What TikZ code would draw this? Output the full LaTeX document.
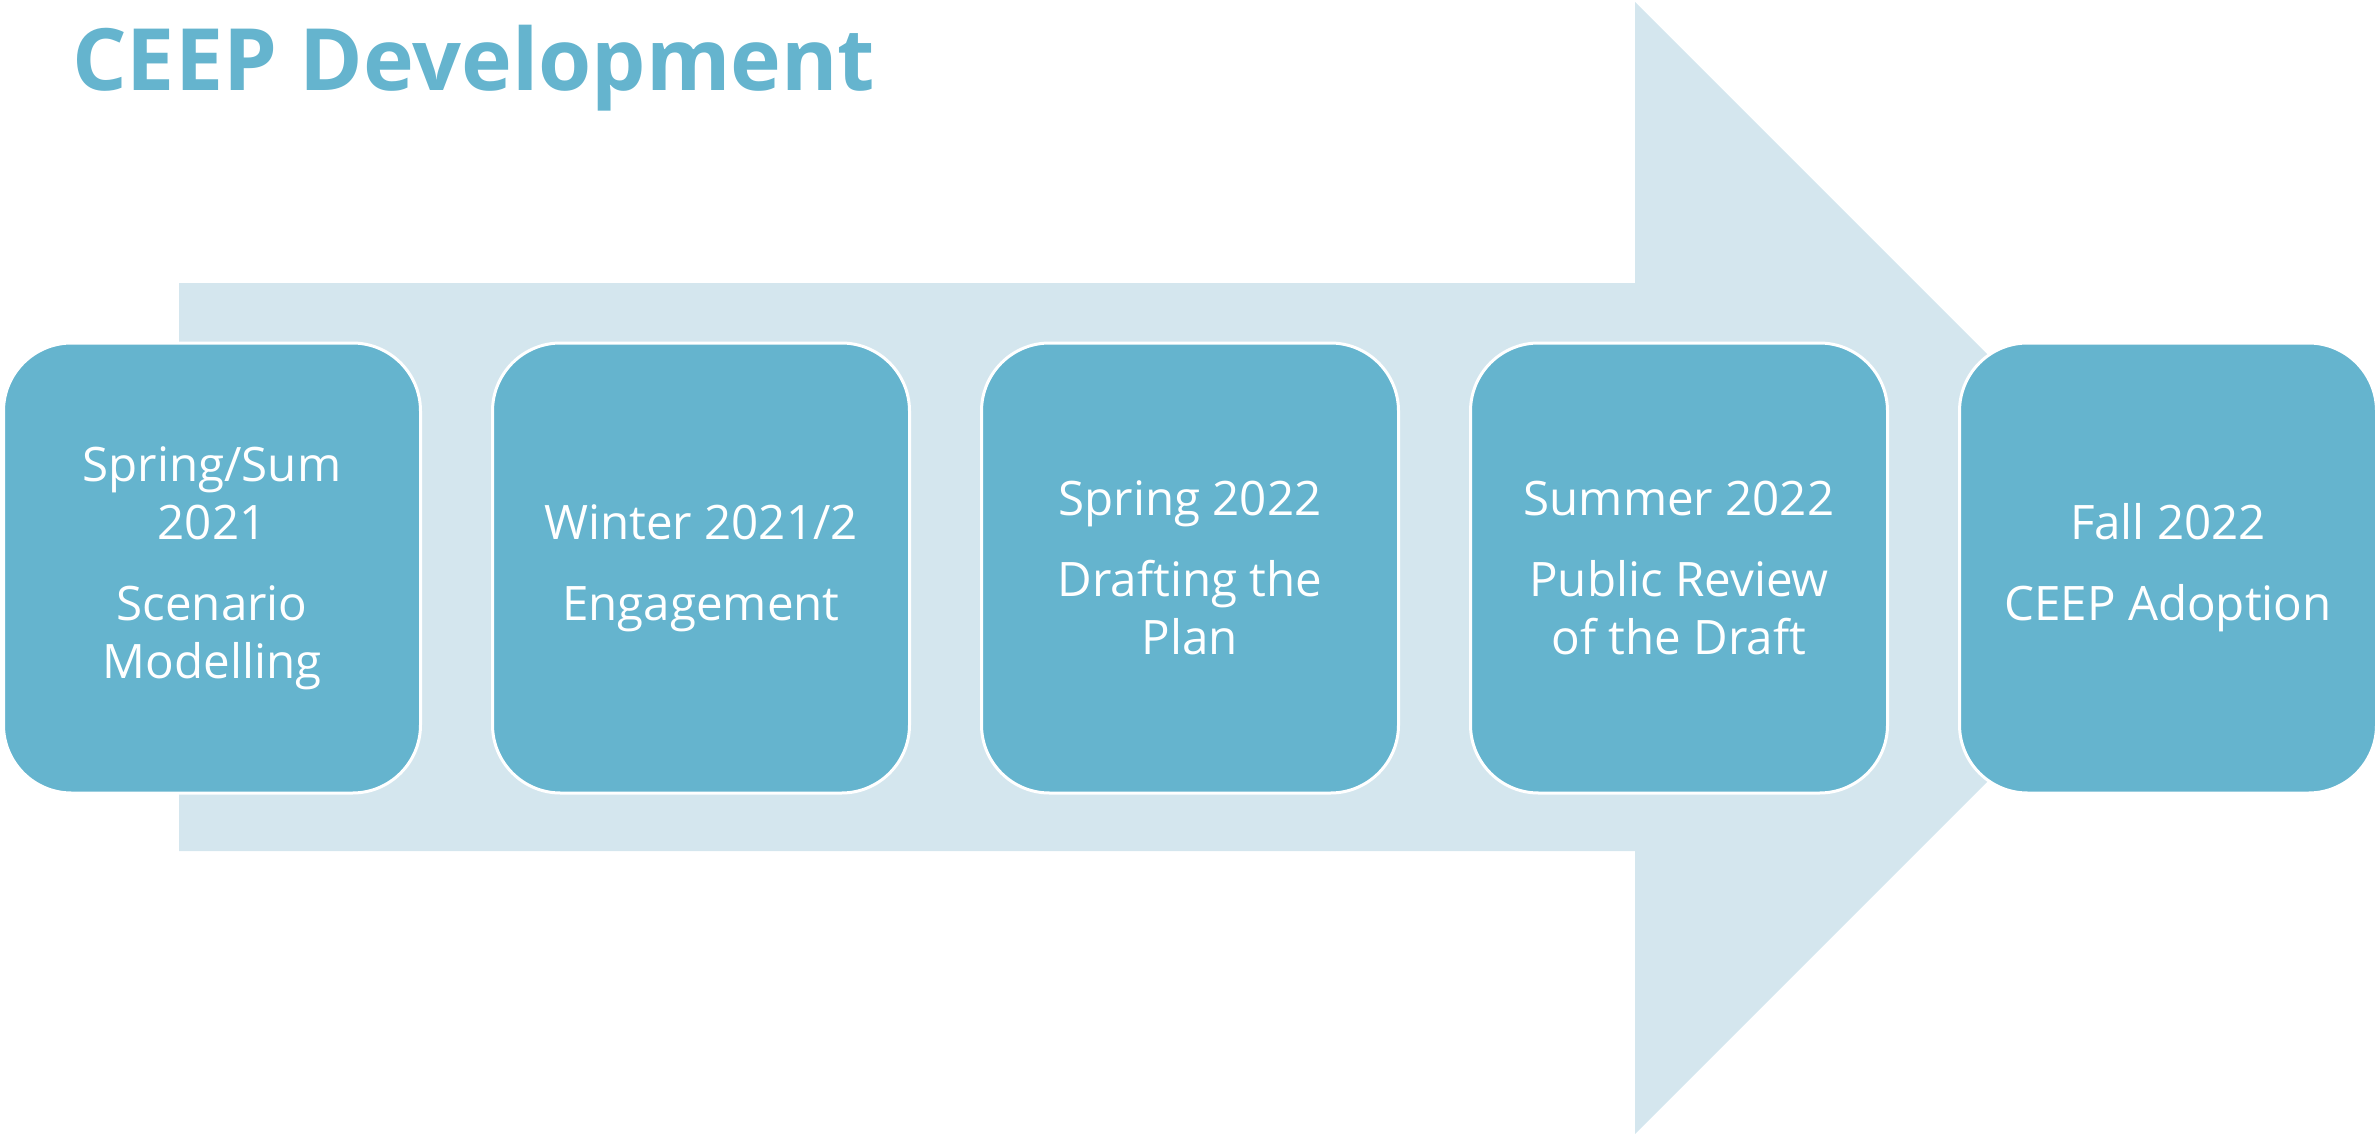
\documentclass[tikz,border=0pt]{standalone}
\usepackage{fontspec}
\setmainfont{Open Sans}
\definecolor{boxblue}{RGB}{101,180,206}
\definecolor{arrowlight}{RGB}{212,230,238}
\begin{document}
\begin{tikzpicture}[x=1pt,y=-1pt,
  stage/.style={draw=white, line width=3pt, fill=boxblue, rounded corners=68pt,
    minimum width=417pt, minimum height=450pt, inner sep=0pt, align=center,
    text=white, font=\fontsize{47.5}{58}\selectfont},
  title/.style={anchor=base west, inner sep=0pt, text=boxblue,
    font=\fontsize{86}{100}\selectfont\bfseries}]
\useasboundingbox (0,0) rectangle (2377,1134);
% background arrow
\fill[arrowlight] (179,283) -- (1635,283) -- (1635,2) -- (2201,568) -- (1635,1134)
  -- (1635,851) -- (179,851) -- cycle;
\node[title] (t) at (72,91) {CEEP Development};
\node[stage] (s1) at (212,568) {Spring/Sum\\2021\\[23pt]Scenario\\Modelling};
\node[stage] (s2) at (701,568) {Winter 2021/2\\[23pt]Engagement};
\node[stage] (s3) at (1190,568) {Spring 2022\\[23pt]Drafting the\\Plan};
\node[stage] (s4) at (1679,568) {Summer 2022\\[23pt]Public Review\\of the Draft};
\node[stage] (s5) at (2168,568) {Fall 2022\\[23pt]CEEP Adoption};
\end{tikzpicture}
\end{document}
